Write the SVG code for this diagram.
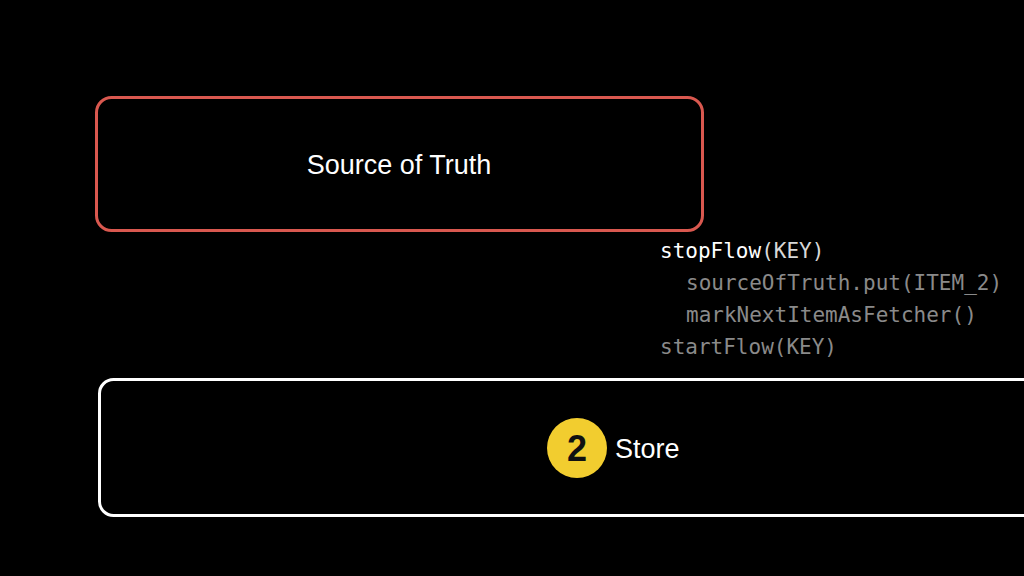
<svg xmlns="http://www.w3.org/2000/svg" width="1024" height="576" viewBox="0 0 1024 576">
<style>
.label{font-family:"Liberation Sans",Arial,sans-serif;font-size:27px;fill:#ffffff;}
.code{font-family:"DejaVu Sans Mono","Liberation Mono",monospace;font-size:21px;}
.dim{fill:#8a8a8a;}
</style>
<rect x="0" y="0" width="1024" height="576" fill="#000000"/>
<g id="source-of-truth">
<rect x="96.5" y="97.5" width="606" height="133" rx="15" fill="none" stroke="#d9584f" stroke-width="3"/>
<text class="label" x="399" y="174" text-anchor="middle">Source of Truth</text>
</g>
<g id="code">
<text class="code" x="660" y="258"><tspan fill="#ffffff">stopFlow</tspan><tspan fill="#d8d8d8">(KEY)</tspan></text>
<text class="code dim" x="686" y="290">sourceOfTruth.put(ITEM_2)</text>
<text class="code dim" x="686" y="322">markNextItemAsFetcher()</text>
<text class="code dim" x="660" y="354">startFlow(KEY)</text>
</g>
<g id="store">
<rect x="99.5" y="379.5" width="950" height="136" rx="14" fill="none" stroke="#ffffff" stroke-width="3"/>
<circle cx="577" cy="448" r="30" fill="#f2cd2f"/>
<text x="577" y="461" text-anchor="middle" font-family="Liberation Sans,Arial,sans-serif" font-weight="bold" font-size="36" fill="#111111">2</text>
<text class="label" x="615" y="458">Store</text>
</g>
<g id="connectors"></g>
</svg>
